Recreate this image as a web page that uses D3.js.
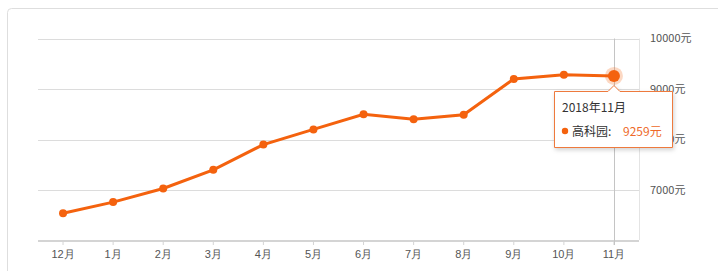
<!DOCTYPE html>
<meta charset="utf-8">
<style>
body { margin: 0; background: #fff; }
svg { display: block; font-family: "Noto Sans CJK SC", "Microsoft YaHei", sans-serif; }
.grid line { stroke: #dcdcdc; stroke-width: 1px; shape-rendering: crispEdges; }
.axis--x path { stroke: #d4d4d4; stroke-width: 2px; }
.axis--x line { stroke: #d4d4d4; }
.axis text { fill: #555; font-size: 11px; }
.line { fill: none; stroke: #f4620e; stroke-width: 3px; }
</style>
<svg width="718" height="271"></svg>
<script src="https://d3js.org/d3.v7.min.js"></script>
<script>

var months = ["12月", "1月", "2月", "3月", "4月", "5月", "6月", "7月", "8月", "9月", "10月", "11月"];
var prices = [6540, 6760, 7030, 7400, 7900, 8200, 8500, 8400, 8490, 9200, 9280, 9259];
var yTicks = [7000, 8000, 9000, 10000];
var seriesName = "高科园";
var hoverIndex = 11;
var hoverTitle = "2018年11月";

var svg = d3.select("svg"),
    orange = "#f4620e";

// outer panel
svg.append("rect")
    .attr("x", 7.5).attr("y", 8.5)
    .attr("width", 720).attr("height", 280)
    .attr("rx", 4)
    .attr("fill", "#fff")
    .attr("stroke", "#dedede");

var x = d3.scaleBand().domain(months).range([38, 639]),
    y = d3.scaleLinear().domain([6000, 10000]).range([240.5, 38.5]);

function cx(d) { return x(d) + x.bandwidth() / 2; }

// horizontal grid
svg.append("g").attr("class", "grid")
  .selectAll("line")
  .data(yTicks)
  .enter().append("line")
    .attr("x1", 38).attr("x2", 639)
    .attr("y1", function(d) { return Math.round(y(d)) + 0.5; })
    .attr("y2", function(d) { return Math.round(y(d)) + 0.5; });

// right border of plot
svg.append("line")
    .attr("x1", 639.5).attr("x2", 639.5)
    .attr("y1", y(10000)).attr("y2", 240)
    .attr("stroke", "#e4e4e4");

// y labels on the right
svg.append("g").attr("class", "axis")
  .selectAll("text")
  .data(yTicks)
  .enter().append("text")
    .attr("x", 650)
    .attr("y", function(d) { return y(d); })
    .attr("dy", "0.35em")
    .text(function(d) { return d + "元"; });

// x axis
var xAxis = svg.append("g")
    .attr("class", "axis axis--x")
    .attr("transform", "translate(0,241)")
    .call(d3.axisBottom(x).tickSize(4).tickSizeOuter(0).tickPadding(5));
xAxis.select(".domain").attr("d", "M38,0H639");

// crosshair line
svg.append("line")
    .attr("x1", Math.round(cx(months[hoverIndex])) + 0.5)
    .attr("x2", Math.round(cx(months[hoverIndex])) + 0.5)
    .attr("y1", y(10000)).attr("y2", 245)
    .attr("stroke", "#c4c4c4");

var line = d3.line()
    .x(function(d, i) { return cx(months[i]); })
    .y(function(d) { return y(d); });

svg.append("path")
    .datum(prices)
    .attr("class", "line")
    .attr("d", line);

svg.append("g")
  .selectAll("circle")
  .data(prices)
  .enter().append("circle")
    .attr("cx", function(d, i) { return cx(months[i]); })
    .attr("cy", function(d) { return y(d); })
    .attr("r", function(d, i) { return i === hoverIndex ? 0 : 4; })
    .attr("fill", orange);

// highlighted point
var hx = cx(months[hoverIndex]), hy = y(prices[hoverIndex]);
svg.append("circle").attr("cx", hx).attr("cy", hy).attr("r", 9)
    .attr("fill", orange).attr("fill-opacity", 0.25);
svg.append("circle").attr("cx", hx).attr("cy", hy).attr("r", 6)
    .attr("fill", orange);

// tooltip
var tip = svg.append("g");
var bx = 554.5, by = 91.5, bw = 118, bh = 56;
var defs = svg.append("defs");
var f = defs.append("filter").attr("id", "sh").attr("x", "-20%").attr("y", "-20%").attr("width", "140%").attr("height", "150%");
f.append("feDropShadow").attr("dx", 1).attr("dy", 2).attr("stdDeviation", 2).attr("flood-color", "#000").attr("flood-opacity", 0.18);

tip.append("path")
    .attr("d", "M" + bx + "," + by + "H" + (hx - 6) + "L" + hx + "," + (by - 6) + "L" + (hx + 6) + "," + by +
        "H" + (bx + bw) + "V" + (by + bh) + "H" + bx + "Z")
    .attr("fill", "#fff")
    .attr("stroke", "#ee7a3c")
    .attr("filter", "url(#sh)");

tip.append("text")
    .attr("x", 562).attr("y", 112)
    .attr("fill", "#333").attr("font-size", 12)
    .text(hoverTitle);

tip.append("circle")
    .attr("cx", 565).attr("cy", 131).attr("r", 3.2)
    .attr("fill", orange);

tip.append("text")
    .attr("x", 572).attr("y", 135.5)
    .attr("fill", "#333").attr("font-size", 12)
    .text(seriesName + ":");

tip.append("text")
    .attr("x", 623).attr("y", 135.5)
    .attr("fill", "#ee6a2a").attr("font-size", 12)
    .text(prices[hoverIndex] + "元");

</script>
